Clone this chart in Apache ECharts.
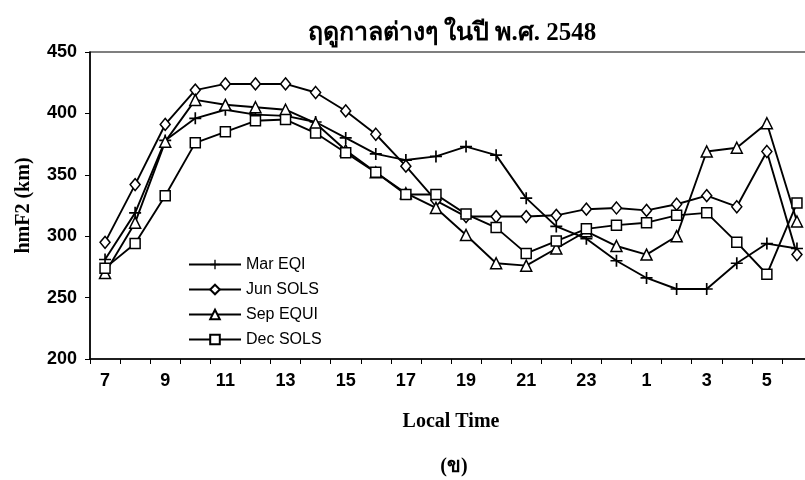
<!DOCTYPE html>
<html>
<head>
<meta charset="utf-8">
<script src="https://cdn.jsdelivr.net/npm/echarts@6/dist/echarts.min.js"></script>
<style>
  html, body { margin: 0; padding: 0; background: #fff; }
  #chart { width: 805px; height: 480px; }
</style>
</head>
<body>
<div id="chart"></div>
<script>
// Local time of day, 07 through 06 the next morning
const hours = ['7','8','9','10','11','12','13','14','15','16','17','18','19','20','21','22','23','0','1','2','3','4','5','6'];

// hmF2 (km) by local time for each season
const marEqi  = [281, 319, 378, 396, 403, 399, 398, 393, 380, 367, 362, 365, 373, 366, 331, 308, 298, 280, 266, 257, 257, 278, 294, 290];
const junSols = [295, 342, 391, 419, 424, 424, 424, 417, 402, 383, 357, 329, 316, 316, 316, 317, 322, 323, 321, 326, 333, 324, 369, 285];
const sepEqui = [270, 311, 377, 411, 407, 405, 403, 392, 370, 352, 335, 323, 301, 278, 276, 290, 304, 292, 285, 300, 369, 372, 392, 312];
const decSols = [274, 294, 333, 376, 385, 394, 395, 384, 368, 352, 334, 334, 318, 307, 286, 296, 306, 309, 311, 317, 319, 295, 269, 327];

const seriesNames = ['Mar EQI', 'Jun SOLS', 'Sep EQUI', 'Dec SOLS'];
const yTicks = { min: 200, max: 450, step: 50 };

const plusPath = 'path://M4.3,0h1.4v4.3h4.3v1.4h-4.3v4.3h-1.4v-4.3h-4.3v-1.4h4.3z';

function makeSeries(name, data, symbol, size, filled) {
  return {
    name: name,
    type: 'line',
    data: data,
    symbol: symbol,
    symbolSize: size,
    showAllSymbol: true,
    lineStyle: { color: '#000', width: 1.9 },
    itemStyle: filled
      ? { color: '#000', borderColor: '#000', borderWidth: 0 }
      : { color: '#fff', borderColor: '#000', borderWidth: 1.5 },
    emphasis: { disabled: true },
    animation: false,
    z: 3
  };
}

const chart = echarts.init(document.getElementById('chart'), null, { renderer: 'canvas' });
chart.setOption({
  backgroundColor: '#fff',
  animation: false,
  title: [
    {
      text: 'ฤดูกาลต่างๆ ในปี พ.ศ. 2548',
      left: 447, top: 16, textAlign: 'center',
      textStyle: { fontFamily: 'Liberation Serif, Noto Sans, sans-serif', fontWeight: 'bold', fontSize: 25, color: '#000' }
    },
    {
      text: '(ข)',
      left: 449, top: 452, textAlign: 'center',
      textStyle: { fontFamily: 'Liberation Serif, Noto Sans, sans-serif', fontWeight: 'bold', fontSize: 20, color: '#000' }
    }
  ],
  legend: {
    orient: 'vertical',
    left: 183, top: 251,
    itemWidth: 52, itemHeight: 12,
    itemGap: 8,
    itemTextGap: 10,
    data: seriesNames,
    textStyle: { fontFamily: 'Liberation Sans, Arial, sans-serif', fontSize: 16, color: '#000', lineHeight: 17 },
    selectedMode: false
  },
  grid: {
    left: 90, top: 52, width: 722, height: 307,
    containLabel: false,
    outerBoundsMode: 'none',
    show: true, borderColor: '#000', borderWidth: 1.2, backgroundColor: 'transparent'
  },
  xAxis: {
    type: 'category',
    data: hours,
    boundaryGap: true,
    name: 'Local Time',
    nameLocation: 'middle',
    nameGap: 53,
    nameTextStyle: { fontFamily: 'Liberation Serif, serif', fontWeight: 'bold', fontSize: 20, color: '#000' },
    axisLine: { lineStyle: { color: '#000', width: 1.5 } },
    axisTick: { show: true, inside: false, length: 5, interval: 0, lineStyle: { color: '#000', width: 1 } },
    axisLabel: {
      interval: 1, margin: 13,
      fontFamily: 'Liberation Sans, Arial, sans-serif', fontWeight: 'bold', fontSize: 18, color: '#000'
    },
    splitLine: { show: false }
  },
  yAxis: {
    type: 'value',
    min: yTicks.min, max: yTicks.max, interval: yTicks.step,
    name: 'hmF2 (km)',
    nameLocation: 'middle',
    nameGap: 56,
    nameRotate: 90,
    nameTextStyle: { fontFamily: 'Liberation Serif, serif', fontWeight: 'bold', fontSize: 20, color: '#000' },
    axisLine: { show: true, lineStyle: { color: '#000', width: 1.5 } },
    axisTick: { show: true, inside: false, length: 5, lineStyle: { color: '#000', width: 1 } },
    axisLabel: {
      margin: 13,
      fontFamily: 'Liberation Sans, Arial, sans-serif', fontWeight: 'bold', fontSize: 18, color: '#000'
    },
    splitLine: { show: false }
  },
  series: [
    makeSeries(seriesNames[0], marEqi, plusPath, 12, true),
    makeSeries(seriesNames[1], junSols, 'diamond', [10, 12], false),
    makeSeries(seriesNames[2], sepEqui, 'triangle', 11, false),
    makeSeries(seriesNames[3], decSols, 'rect', 10, false)
  ]
});
</script>
</body>
</html>
